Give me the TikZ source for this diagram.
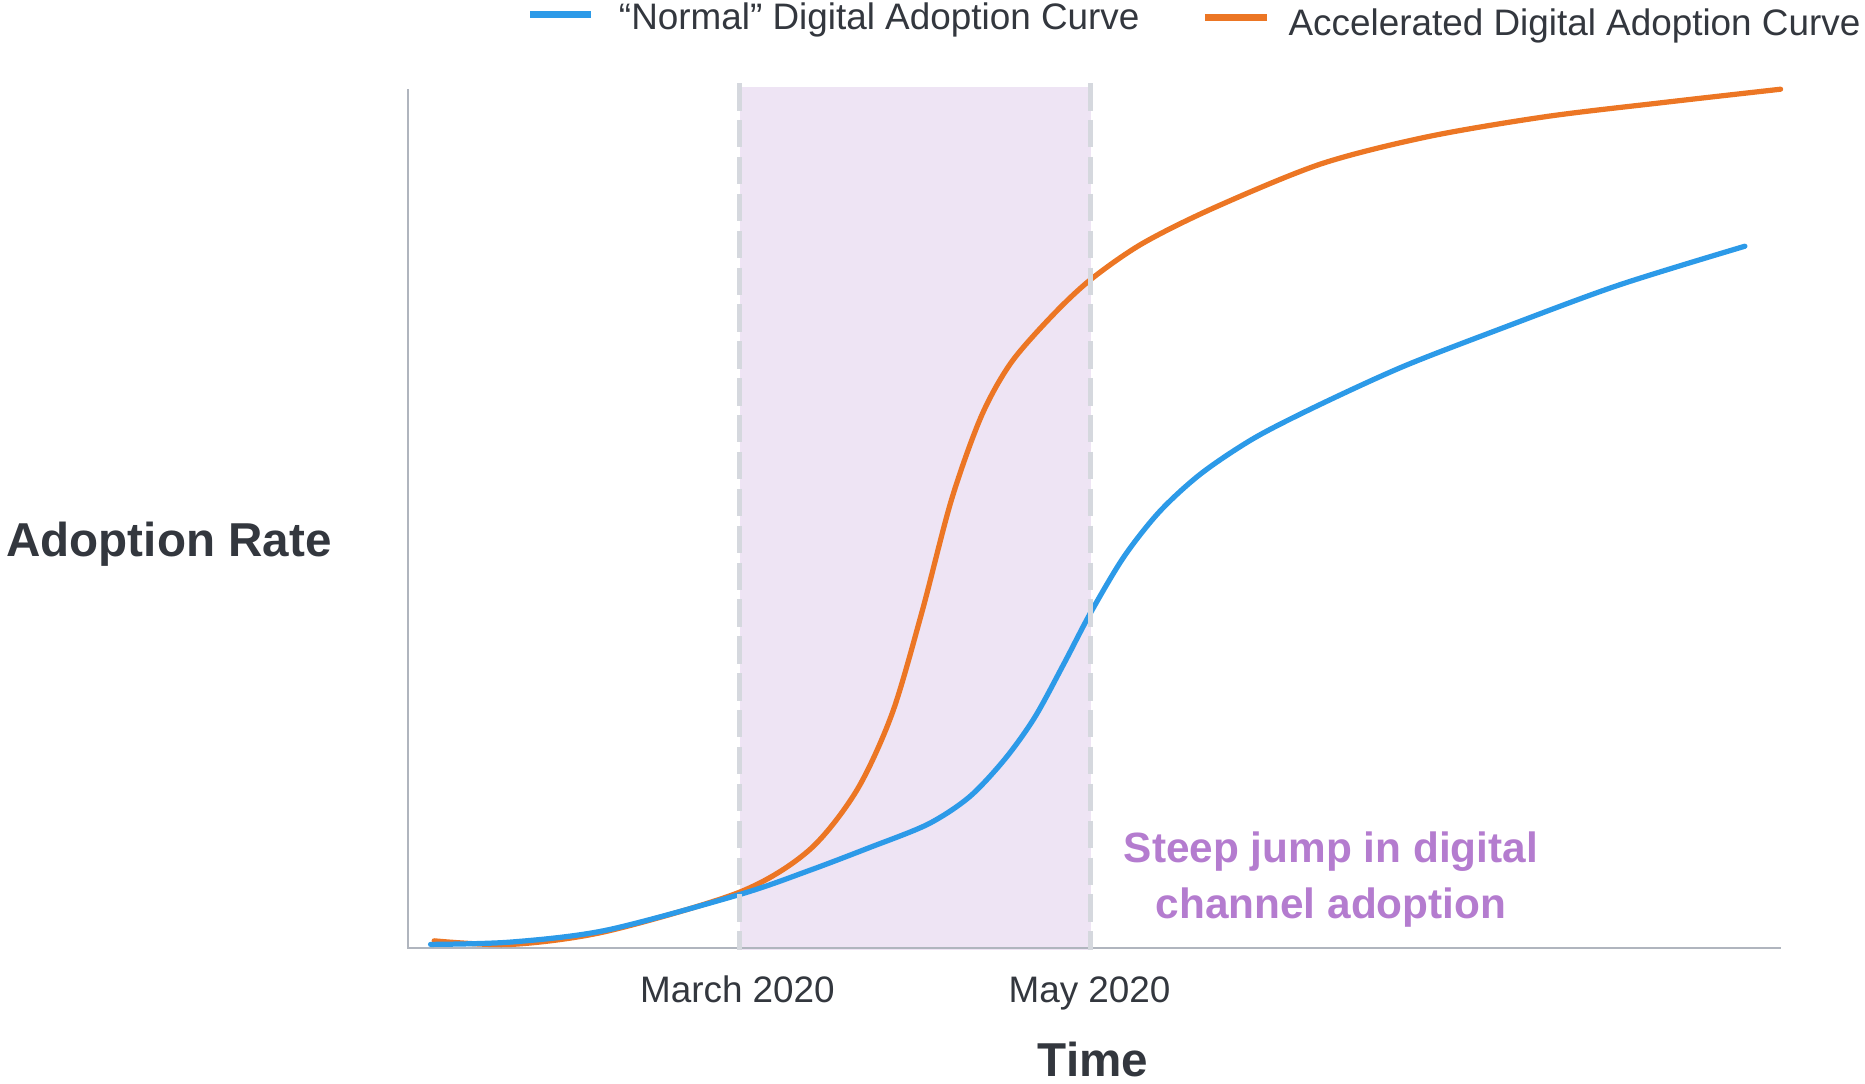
\documentclass[tikz,border=0pt]{standalone}
\usepackage{fontspec}
\setmainfont{Liberation Sans}
\definecolor{normalblue}{RGB}{44,154,232}
\definecolor{accelorange}{RGB}{236,118,36}
\definecolor{jumpshade}{RGB}{238,228,244}
\definecolor{jumpline}{RGB}{213,216,222}
\definecolor{axisgray}{RGB}{176,181,190}
\definecolor{labeldark}{RGB}{51,55,62}
\definecolor{jumppurple}{RGB}{180,124,207}
\tikzset{
  curve/.style={line width=2.2pt, line cap=round},
  legendbar/.style={line width=3pt},
  boundary/.style={jumpline, line width=2.2pt, dash pattern=on 11.5pt off 4pt},
  plainlabel/.style={text=labeldark, inner sep=0pt, font=\fontsize{15.5}{18}\selectfont},
  axistitle/.style={text=labeldark, inner sep=0pt, font=\fontsize{20}{24}\selectfont\bfseries},
}
\begin{document}
\begin{tikzpicture}[x=0.5pt, y=-0.5pt]
  \useasboundingbox (0,0) rectangle (1568,911);
  % shaded period between March and May
  \fill[jumpshade] (622,73) rectangle (917,799);
  % axes
  \coordinate (origin) at (343,797);
  \coordinate (ytop) at (343,75);
  \coordinate (xend) at (1497,797);
  \draw[axisgray, line width=0.8pt] (ytop) -- (origin) -- (xend);
  % curves
  \draw[accelorange, curve] plot[smooth] coordinates {(365,791) (430,794) (510,783) (622,750) (680,715) (720,665) (750,600) (775,515) (800,420) (825,350) (850,305) (885,265) (917,235) (960,205) (1020,175) (1110,138) (1200,115) (1300,98) (1400,86) (1497,75)};
  \draw[normalblue, curve] plot[smooth] coordinates {(362,794) (430,792) (510,782) (622,752) (680,732) (730,713) (780,693) (815,670) (845,638) (870,603) (895,557) (917,515) (945,468) (975,430) (1010,398) (1055,368) (1110,340) (1180,308) (1260,277) (1360,240) (1467,207)};
  % period boundaries
  \draw[boundary] (622,70) -- (622,799);
  \draw[boundary] (917,70) -- (917,799);
  % legend
  \draw[normalblue, legendbar] (446,12) -- (497,12);
  \node[plainlabel, anchor=base west] (normallabel) at (520,25) {“Normal” Digital Adoption Curve};
  \draw[accelorange, legendbar] (1013,15) -- (1065,15);
  \node[plainlabel, anchor=base west] (accellabel) at (1083,30) {Accelerated Digital Adoption Curve};
  % axis labels
  \node[axistitle, anchor=base west] (ratelabel) at (5,468) {Adoption Rate};
  \node[axistitle, anchor=base] (timelabel) at (919,905) {Time};
  \node[plainlabel, anchor=base] (marchlabel) at (620,843) {March 2020};
  \node[plainlabel, anchor=base] (maylabel) at (916,843) {May 2020};
  % annotation
  \node[text=jumppurple, inner sep=0pt, align=center, anchor=base,
        font=\fontsize{17.8}{23.5}\selectfont\bfseries] (jumpnote) at (1119,772)
        {Steep jump in digital\\channel adoption};
\end{tikzpicture}
\end{document}
